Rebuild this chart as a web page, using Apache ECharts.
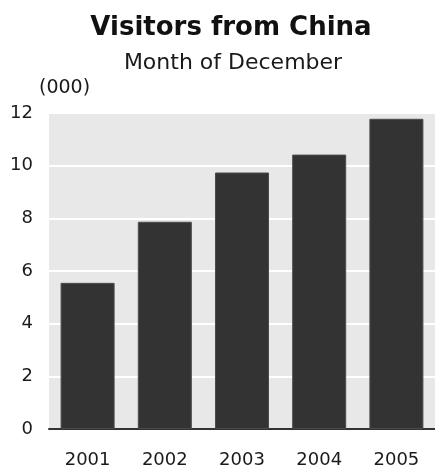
<!DOCTYPE html>
<html>
<head>
<meta charset="utf-8">
<script src="https://cdn.jsdelivr.net/npm/echarts@6/dist/echarts.min.js"></script>
<style>
  html, body { margin: 0; padding: 0; background: #fff; }
  #chart { width: 435px; height: 470px; }
</style>
</head>
<body>
<div id="chart"></div>
<script>
// Visitors from China, December of each year, in thousands
const years = ['2001', '2002', '2003', '2004', '2005'];
const visitors = [5.55, 7.87, 9.74, 10.42, 11.78];
const yTicks = { min: 0, max: 12, interval: 2 };

const font = '"DejaVu Sans", Verdana, sans-serif';
const chart = echarts.init(document.getElementById('chart'), null, { renderer: 'canvas' });

chart.setOption({
  animation: false,
  backgroundColor: '#ffffff',
  title: [
    {
      text: 'Visitors from China',
      left: 226, top: 10, textAlign: 'center',
      textStyle: { fontFamily: font, fontWeight: 'bold', fontSize: 26, color: '#111' }
    },
    {
      text: 'Month of December',
      left: 228, top: 47, textAlign: 'center',
      textStyle: { fontFamily: font, fontWeight: 'normal', fontSize: 22, color: '#1a1a1a' }
    }
  ],
  graphic: [
    {
      type: 'text', left: 39, top: 79,
      style: { text: '(000)', font: '19px ' + font, fill: '#1a1a1a' }
    }
  ],
  grid: {
    left: 49, top: 113, width: 389, height: 316,
    show: true, backgroundColor: '#e8e8e8', borderWidth: 0
  },
  xAxis: {
    type: 'category',
    data: years,
    axisLine: { show: true, lineStyle: { color: '#333', width: 2 } },
    axisTick: { show: false },
    axisLabel: { margin: 22, fontFamily: font, fontSize: 18, color: '#1a1a1a' },
    splitLine: { show: false }
  },
  yAxis: {
    type: 'value',
    min: yTicks.min, max: yTicks.max, interval: yTicks.interval,
    axisLine: { show: false },
    axisTick: { show: false },
    axisLabel: { margin: 16, fontFamily: font, fontSize: 18, color: '#1a1a1a' },
    splitLine: { show: true, lineStyle: { color: '#ffffff', width: 2 } }
  },
  series: [
    {
      type: 'bar',
      data: visitors,
      barWidth: 54,
      itemStyle: { color: '#333333', borderColor: '#4a4a4a', borderWidth: 1 }
    }
  ]
});
</script>
</body>
</html>
